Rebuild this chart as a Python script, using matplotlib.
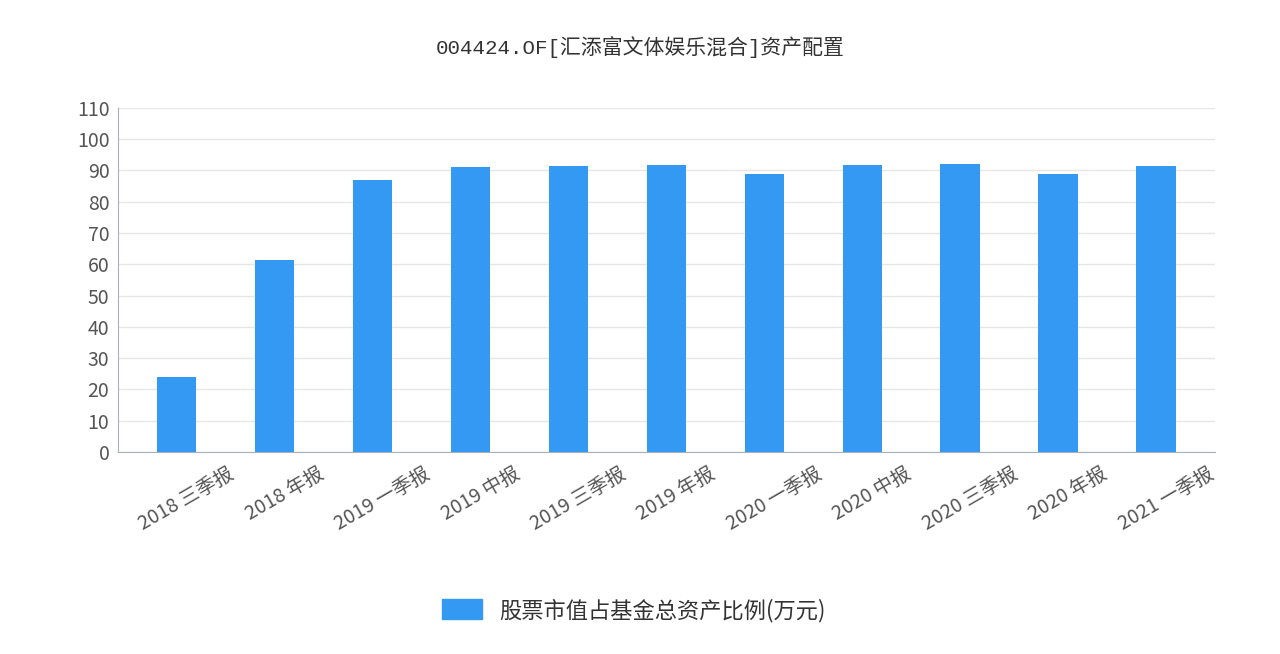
import matplotlib
matplotlib.use("Agg")
import matplotlib.pyplot as plt
from matplotlib.patches import Patch

plt.rcParams['font.family'] = ['Noto Sans CJK SC', 'DejaVu Sans']

categories = ["2018 三季报", "2018 年报", "2019 一季报", "2019 中报", "2019 三季报", "2019 年报",
              "2020 一季报", "2020 中报", "2020 三季报", "2020 年报", "2021 一季报"]
values = [24.1, 61.4, 86.8, 91.2, 91.5, 91.8, 89.0, 91.8, 92.1, 88.8, 91.4]
series_name = "股票市值占基金总资产比例(万元)"
title = "004424.OF[汇添富文体娱乐混合]资产配置"

color = "#3399f3"
fig = plt.figure(figsize=(12.8, 6.54), dpi=100)
ax = fig.add_axes([0.092, 0.309, 0.857, 0.526])
x = list(range(len(categories)))
ax.bar(x, values, width=0.4, color=color, zorder=3)
ax.set_xlim(-0.6, len(categories) - 0.4)
ax.set_ylim(0, 110)
ax.set_yticks(range(0, 111, 10))
ax.grid(axis='y', color='#e6e6e6', linewidth=1, zorder=0)
for s in ['top', 'right']:
    ax.spines[s].set_visible(False)
for s in ['left', 'bottom']:
    ax.spines[s].set_color('#aab0bb')
ax.tick_params(axis='y', length=0, labelsize=14, labelcolor='#555555', pad=6)
ax.tick_params(axis='x', length=0, labelsize=14, labelcolor='#555555', pad=8)
ax.set_xticks(x)
ax.set_xticklabels(categories, rotation=30, ha='center', va='top', rotation_mode='default')
for lbl in ax.get_xticklabels():
    lbl.set_x(lbl.get_position()[0])
import matplotlib.transforms as mt
offset = mt.ScaledTranslation(0.1, 0, fig.dpi_scale_trans)
for lbl in ax.get_xticklabels():
    lbl.set_transform(lbl.get_transform() + offset)
fig.text(0.5, 0.928, title, ha='center', va='center', fontsize=15, color='#333333',
         family=['Liberation Mono', 'Noto Sans CJK SC'])
fig.legend(handles=[Patch(color=color, label=series_name)], loc='center',
           bbox_to_anchor=(0.495, 0.067), frameon=False, fontsize=16,
           handlelength=1.8, handleheight=1.0, labelcolor='#333333')
fig.savefig("out.png", dpi=100, facecolor='white')
